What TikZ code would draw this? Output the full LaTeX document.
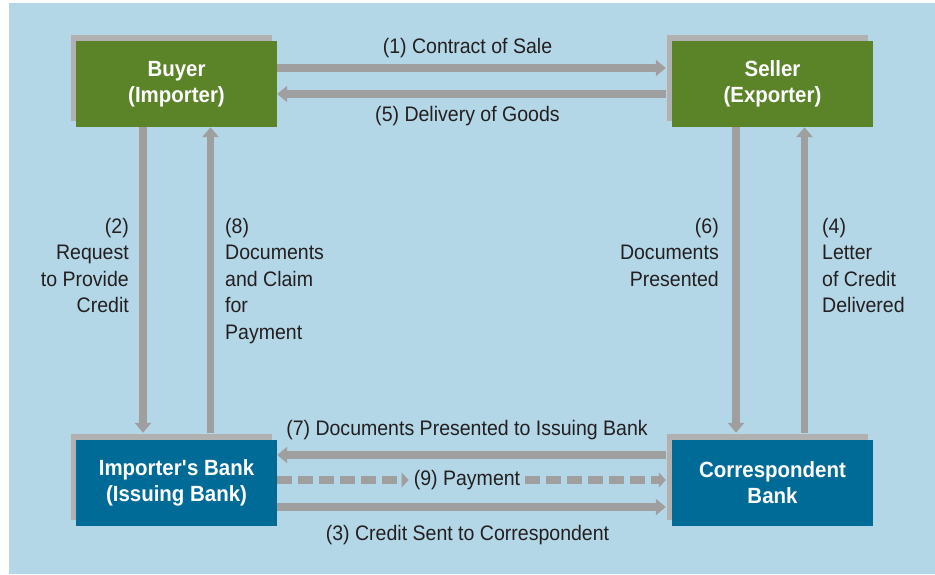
\documentclass[tikz,border=0pt]{standalone}
\usepackage{fontspec}
\setmainfont[FakeStretch=0.93]{Liberation Sans}
\usetikzlibrary{arrows.meta,shadows}
\definecolor{bgblue}{HTML}{B4D7E8}
\definecolor{boxgreen}{HTML}{5A8427}
\definecolor{boxblue}{HTML}{006B97}
\definecolor{sgray}{HTML}{B1B1B1}
\definecolor{agray}{HTML}{9F9F9F}
\definecolor{txt}{HTML}{231F20}
\begin{document}
\begin{tikzpicture}[x=1pt,y=-1pt,
  box/.style={minimum width=201pt, minimum height=86pt, inner sep=0pt, text=white,
    font=\bfseries\fontsize{22}{26}\selectfont, align=center,
    general shadow={fill=sgray, shadow xshift=-5pt, shadow yshift=6pt}},
  lab/.style={text=txt, font=\fontsize{21}{26.5}\selectfont, inner sep=0pt},
  arr/.style={draw=agray, line width=7.5pt, -{Triangle[width=16pt,length=10pt]}},
  darr/.style={draw=agray, line width=7.5pt, dash pattern=on 15pt off 6pt, -{Triangle[width=15pt,length=7pt]}}]
\fill[white] (0,0) rectangle (935,574);
\fill[bgblue] (9,3) rectangle (935,574);
\useasboundingbox (0,0) rectangle (935,574);

\node[box, fill=boxgreen] (buyer) at (176.5,84) {Buyer\\(Importer)};
\node[box, fill=boxgreen] (seller) at (772.5,84) {Seller\\(Exporter)};
\node[box, fill=boxblue] (ib) at (176.5,483) {Importer\textquotesingle s Bank\\(Issuing Bank)};
\node[box, fill=boxblue] (cb) at (772.5,483) {Correspondent\\Bank};

% top horizontal
\draw[arr, shorten >=6pt] (buyer.east |- 0,68) -- (seller.west |- 0,68);
\draw[arr, shorten <=6pt] (seller.west |- 0,94) -- (buyer.east |- 0,94);
% verticals
\draw[arr, shorten >=7pt] (buyer.south -| 143,0) -- (ib.north -| 143,0);
\draw[arr, shorten <=7pt] (ib.north -| 210.5,0) -- (buyer.south -| 210.5,0);
\draw[arr, shorten >=7pt] (seller.south -| 736,0) -- (cb.north -| 736,0);
\draw[arr, shorten <=7pt] (cb.north -| 804.5,0) -- (seller.south -| 804.5,0);
% bottom horizontal
\draw[arr, shorten <=6pt] (cb.west |- 0,455) -- (ib.east |- 0,455);
\draw[arr, shorten >=6pt] (ib.east |- 0,507) -- (cb.west |- 0,507);
\node[lab, inner xsep=5pt] (pay) at (467,480) {(9) Payment};
\draw[darr] (ib.east |- 0,480) -- (pay.west);
\draw[darr, shorten >=6pt] (pay.east) -- (cb.west |- 0,480);

% labels
\node[lab, anchor=base] (l1) at (467.5,53) {(1) Contract of Sale};
\node[lab, anchor=base] (l5) at (467.5,121) {(5) Delivery of Goods};
\node[lab, anchor=base] (l7) at (467,435) {(7) Documents Presented to Issuing Bank};
\node[lab, anchor=base] (l3) at (467.5,540) {(3) Credit Sent to Correspondent};
\node[lab, align=right, anchor=north east] (l2) at (129,218) {(2)\\Request\\to Provide\\Credit};
\node[lab, align=left, anchor=north west] (l8) at (225,218) {(8)\\Documents\\and Claim\\for\\Payment};
\node[lab, align=right, anchor=north east] (l6) at (719,218) {(6)\\Documents\\Presented};
\node[lab, align=left, anchor=north west] (l4) at (822,218) {(4)\\Letter\\of Credit\\Delivered};
\end{tikzpicture}
\end{document}
